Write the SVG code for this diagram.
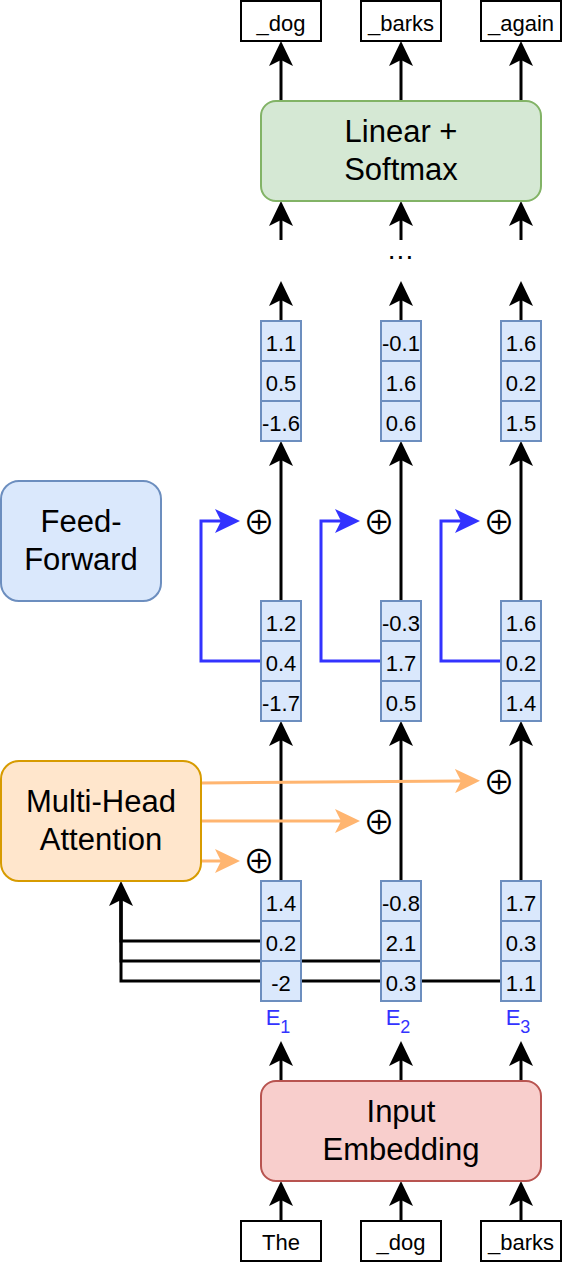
<svg xmlns="http://www.w3.org/2000/svg" width="562" height="1262" viewBox="0 0 562 1262">
<style>
text{font-family:"Liberation Sans",Arial,Helvetica,sans-serif;fill:#000;text-anchor:middle}
.sm{font-size:22px}
.lg{font-size:31px}
.tok{fill:#fff;stroke:#000;stroke-width:2}
.cell{fill:#dae8fc;stroke:#6c8ebf;stroke-width:2}
.ln{fill:none;stroke:#000;stroke-width:3}
.bl{fill:none;stroke:#3333ff;stroke-width:3}
.or{fill:none;stroke:#ffb570;stroke-width:3}
.op{font-family:"Noto Sans CJK JP","DejaVu Sans",sans-serif;font-size:32px;font-weight:400}
.e{fill:#3333ff;font-size:22px}
</style>
<defs>
<marker id="ak" markerUnits="userSpaceOnUse" markerWidth="26" markerHeight="24" viewBox="0 0 26 24" refX="6" refY="12" orient="auto"><path d="M0,0 L25,12 L0,24 L6,12 Z" fill="#000"/></marker>
<marker id="ab" markerUnits="userSpaceOnUse" markerWidth="26" markerHeight="24" viewBox="0 0 26 24" refX="6" refY="12" orient="auto"><path d="M0,0 L25,12 L0,24 L6,12 Z" fill="#3333ff"/></marker>
<marker id="ao" markerUnits="userSpaceOnUse" markerWidth="26" markerHeight="24" viewBox="0 0 26 24" refX="6" refY="12" orient="auto"><path d="M0,0 L25,12 L0,24 L6,12 Z" fill="#ffb570"/></marker>
</defs>

<g id="connectors">
<line class="ln" x1="281" y1="101" x2="281" y2="60" marker-end="url(#ak)"/>
<line class="ln" x1="401" y1="101" x2="401" y2="60" marker-end="url(#ak)"/>
<line class="ln" x1="521" y1="101" x2="521" y2="60" marker-end="url(#ak)"/>
<line class="ln" x1="281" y1="240" x2="281" y2="220" marker-end="url(#ak)"/>
<line class="ln" x1="401" y1="240" x2="401" y2="220" marker-end="url(#ak)"/>
<line class="ln" x1="521" y1="240" x2="521" y2="220" marker-end="url(#ak)"/>
<line class="ln" x1="281" y1="321" x2="281" y2="300" marker-end="url(#ak)"/>
<line class="ln" x1="401" y1="321" x2="401" y2="300" marker-end="url(#ak)"/>
<line class="ln" x1="521" y1="321" x2="521" y2="300" marker-end="url(#ak)"/>
<line class="ln" x1="281" y1="601" x2="281" y2="460" marker-end="url(#ak)"/>
<line class="ln" x1="401" y1="601" x2="401" y2="460" marker-end="url(#ak)"/>
<line class="ln" x1="521" y1="601" x2="521" y2="460" marker-end="url(#ak)"/>
<line class="ln" x1="281" y1="881" x2="281" y2="740" marker-end="url(#ak)"/>
<line class="ln" x1="401" y1="881" x2="401" y2="740" marker-end="url(#ak)"/>
<line class="ln" x1="521" y1="881" x2="521" y2="740" marker-end="url(#ak)"/>
<line class="ln" x1="281" y1="1081" x2="281" y2="1060" marker-end="url(#ak)"/>
<line class="ln" x1="401" y1="1081" x2="401" y2="1060" marker-end="url(#ak)"/>
<line class="ln" x1="521" y1="1081" x2="521" y2="1060" marker-end="url(#ak)"/>
<line class="ln" x1="281" y1="1221" x2="281" y2="1200" marker-end="url(#ak)"/>
<line class="ln" x1="401" y1="1221" x2="401" y2="1200" marker-end="url(#ak)"/>
<line class="ln" x1="521" y1="1221" x2="521" y2="1200" marker-end="url(#ak)"/>
<polyline class="ln" points="261,941 121,941 121,900" marker-end="url(#ak)"/>
<polyline class="ln" points="381,961 121,961 121,900"/>
<polyline class="ln" points="501,981 121,981 121,900"/>
<polyline class="bl" points="261,661 201,661 201,521 221,521" marker-end="url(#ab)"/>
<polyline class="bl" points="381,661 321,661 321,521 341,521" marker-end="url(#ab)"/>
<polyline class="bl" points="501,661 441,661 441,521 461,521" marker-end="url(#ab)"/>
<line class="or" x1="201" y1="861" x2="221" y2="861" marker-end="url(#ao)"/>
<line class="or" x1="201" y1="821" x2="341" y2="821" marker-end="url(#ao)"/>
<line class="or" x1="201" y1="783" x2="461" y2="781" marker-end="url(#ao)"/>
</g>

<g id="out-tokens">
<g id="out-dog"><rect class="tok" x="241" y="1" width="80" height="40"/><text class="sm" x="281" y="30.5">_dog</text></g>
<g id="out-barks"><rect class="tok" x="361" y="1" width="80" height="40"/><text class="sm" x="401" y="30.5">_barks</text></g>
<g id="out-again"><rect class="tok" x="481" y="1" width="80" height="40"/><text class="sm" x="521" y="30.5">_again</text></g>
</g>

<g id="linear-softmax">
<rect x="261" y="101" width="280" height="100" rx="15" fill="#d5e8d4" stroke="#82b366" stroke-width="2"/>
<text class="lg" x="401" y="142">Linear +</text>
<text class="lg" x="401" y="180">Softmax</text>
</g>

<g id="ellipsis"><text x="401" y="259" font-size="28" letter-spacing="1">...</text></g>

<g id="vec-top-1">
<rect class="cell" x="261" y="321" width="40" height="40"/><rect class="cell" x="261" y="361" width="40" height="40"/><rect class="cell" x="261" y="401" width="40" height="40"/>
<text class="sm" x="281" y="350.5">1.1</text><text class="sm" x="281" y="390.5">0.5</text><text class="sm" x="281" y="430.5">-1.6</text>
</g>
<g id="vec-top-2">
<rect class="cell" x="381" y="321" width="40" height="40"/><rect class="cell" x="381" y="361" width="40" height="40"/><rect class="cell" x="381" y="401" width="40" height="40"/>
<text class="sm" x="401" y="350.5">-0.1</text><text class="sm" x="401" y="390.5">1.6</text><text class="sm" x="401" y="430.5">0.6</text>
</g>
<g id="vec-top-3">
<rect class="cell" x="501" y="321" width="40" height="40"/><rect class="cell" x="501" y="361" width="40" height="40"/><rect class="cell" x="501" y="401" width="40" height="40"/>
<text class="sm" x="521" y="350.5">1.6</text><text class="sm" x="521" y="390.5">0.2</text><text class="sm" x="521" y="430.5">1.5</text>
</g>

<g id="feed-forward">
<rect x="1" y="481" width="160" height="120" rx="18" fill="#dae8fc" stroke="#6c8ebf" stroke-width="2"/>
<text class="lg" x="81" y="532">Feed-</text>
<text class="lg" x="81" y="570">Forward</text>
</g>

<g id="plus-ff">
<text class="op" x="259" y="534">⊕</text>
<text class="op" x="379" y="534">⊕</text>
<text class="op" x="499" y="534">⊕</text>
</g>

<g id="vec-mid-1">
<rect class="cell" x="261" y="601" width="40" height="40"/><rect class="cell" x="261" y="641" width="40" height="40"/><rect class="cell" x="261" y="681" width="40" height="40"/>
<text class="sm" x="281" y="630.5">1.2</text><text class="sm" x="281" y="670.5">0.4</text><text class="sm" x="281" y="710.5">-1.7</text>
</g>
<g id="vec-mid-2">
<rect class="cell" x="381" y="601" width="40" height="40"/><rect class="cell" x="381" y="641" width="40" height="40"/><rect class="cell" x="381" y="681" width="40" height="40"/>
<text class="sm" x="401" y="630.5">-0.3</text><text class="sm" x="401" y="670.5">1.7</text><text class="sm" x="401" y="710.5">0.5</text>
</g>
<g id="vec-mid-3">
<rect class="cell" x="501" y="601" width="40" height="40"/><rect class="cell" x="501" y="641" width="40" height="40"/><rect class="cell" x="501" y="681" width="40" height="40"/>
<text class="sm" x="521" y="630.5">1.6</text><text class="sm" x="521" y="670.5">0.2</text><text class="sm" x="521" y="710.5">1.4</text>
</g>

<g id="multi-head-attention">
<rect x="1" y="761" width="200" height="120" rx="18" fill="#ffe6cc" stroke="#d79b00" stroke-width="2"/>
<text class="lg" x="101" y="812">Multi-Head</text>
<text class="lg" x="101" y="850">Attention</text>
</g>

<g id="plus-att">
<text class="op" x="259" y="873">⊕</text>
<text class="op" x="379" y="834">⊕</text>
<text class="op" x="499" y="794">⊕</text>
</g>

<g id="vec-emb-1">
<rect class="cell" x="261" y="881" width="40" height="40"/><rect class="cell" x="261" y="921" width="40" height="40"/><rect class="cell" x="261" y="961" width="40" height="40"/>
<text class="sm" x="281" y="910.5">1.4</text><text class="sm" x="281" y="950.5">0.2</text><text class="sm" x="281" y="990.5">-2</text>
</g>
<g id="vec-emb-2">
<rect class="cell" x="381" y="881" width="40" height="40"/><rect class="cell" x="381" y="921" width="40" height="40"/><rect class="cell" x="381" y="961" width="40" height="40"/>
<text class="sm" x="401" y="910.5">-0.8</text><text class="sm" x="401" y="950.5">2.1</text><text class="sm" x="401" y="990.5">0.3</text>
</g>
<g id="vec-emb-3">
<rect class="cell" x="501" y="881" width="40" height="40"/><rect class="cell" x="501" y="921" width="40" height="40"/><rect class="cell" x="501" y="961" width="40" height="40"/>
<text class="sm" x="521" y="910.5">1.7</text><text class="sm" x="521" y="950.5">0.3</text><text class="sm" x="521" y="990.5">1.1</text>
</g>

<g id="emb-labels">
<text class="e" x="278" y="1025">E<tspan font-size="18" dy="8">1</tspan></text>
<text class="e" x="398" y="1025">E<tspan font-size="18" dy="8">2</tspan></text>
<text class="e" x="518" y="1025">E<tspan font-size="18" dy="8">3</tspan></text>
</g>

<g id="input-embedding">
<rect x="261" y="1081" width="280" height="100" rx="15" fill="#f8cecc" stroke="#b85450" stroke-width="2"/>
<text class="lg" x="401" y="1122">Input</text>
<text class="lg" x="401" y="1160">Embedding</text>
</g>

<g id="in-tokens">
<g id="in-the"><rect class="tok" x="241" y="1221" width="80" height="40"/><text class="sm" x="281" y="1250">The</text></g>
<g id="in-dog"><rect class="tok" x="361" y="1221" width="80" height="40"/><text class="sm" x="401" y="1250">_dog</text></g>
<g id="in-barks"><rect class="tok" x="481" y="1221" width="80" height="40"/><text class="sm" x="521" y="1250">_barks</text></g>
</g>
</svg>
